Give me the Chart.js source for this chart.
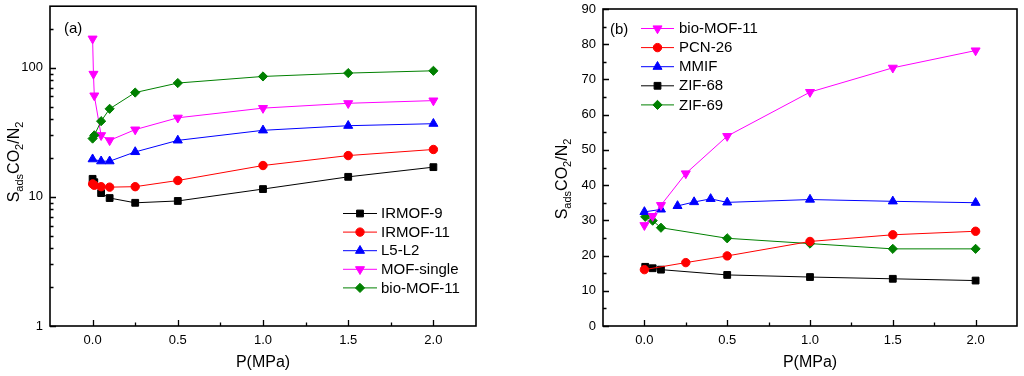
<!DOCTYPE html>
<html><head><meta charset="utf-8">
<script src="https://cdn.jsdelivr.net/npm/chart.js@4.4.0/dist/chart.umd.min.js"></script>
<style>
html,body{margin:0;padding:0;background:#fff;width:1024px;height:376px;overflow:hidden}
.box{position:absolute;top:0;width:512px;height:376px}
#ba{left:0}#bb{left:512px}
</style></head><body>
<div class="box" id="ba"><canvas id="ca" width="512" height="376"></canvas></div>
<div class="box" id="bb"><canvas id="cb" width="512" height="376"></canvas></div>
<script>
// ---------- DATA: panel (a) ----------
const namesA = ['IRMOF-9','IRMOF-11','L5-L2','MOF-single','bio-MOF-11'];
const xA_IRMOF9  = [0, 0.01, 0.05, 0.1, 0.25, 0.5, 1, 1.5, 2];
const yA_IRMOF9  = [13.8, 13.0, 10.7, 9.8, 9.0, 9.3, 11.5, 14.3, 17.0];
const xA_IRMOF11 = [0, 0.01, 0.05, 0.1, 0.25, 0.5, 1, 1.5, 2];
const yA_IRMOF11 = [12.6, 12.3, 12.0, 11.9, 12.0, 13.4, 17.5, 20.9, 23.3];
const xA_L5L2    = [0, 0.05, 0.1, 0.25, 0.5, 1, 1.5, 2];
const yA_L5L2    = [19.6, 18.9, 18.9, 22.3, 27.4, 32.8, 35.6, 36.9];
const xA_MOFs    = [0, 0.005, 0.01, 0.05, 0.1, 0.25, 0.5, 1, 1.5, 2];
const yA_MOFs    = [168, 89.6, 60.9, 30.0, 27.4, 33.2, 41.0, 48.7, 53.1, 55.7];
const xA_bio     = [0, 0.01, 0.05, 0.1, 0.25, 0.5, 1, 1.5, 2];
const yA_bio     = [28.3, 30.0, 38.6, 48.1, 64.3, 76.2, 85.7, 91.0, 94.8];

// ---------- DATA: panel (b) ----------
const namesB = ['bio-MOF-11','PCN-26','MMIF','ZIF-68','ZIF-69'];
const xB_bio   = [0, 0.05, 0.1, 0.25, 0.5, 1, 1.5, 2];
const yB_bio   = [28.6, 31.2, 34.3, 43.3, 53.9, 66.4, 73.3, 78.2];
const xB_PCN   = [0, 0.25, 0.5, 1, 1.5, 2];
const yB_PCN   = [16.0, 18.0, 19.9, 24.0, 25.9, 26.9];
const xB_MMIF  = [0, 0.1, 0.15, 0.2, 0.3, 0.4, 0.5, 1, 1.5, 2];
const yB_MMIF  = [32.4, 33.1, null, 34.1, 35.2, 36.1, 35.1, 35.9, 35.4, 35.0];
const xB_ZIF68 = [0.005, 0.05, 0.1, 0.5, 1, 1.5, 2];
const yB_ZIF68 = [16.8, 16.4, 16.0, 14.5, 13.9, 13.4, 12.9];
const xB_ZIF69 = [0.005, 0.05, 0.1, 0.5, 1, 1.5, 2];
const yB_ZIF69 = [31.0, 29.9, 27.9, 24.9, 23.4, 21.9, 21.9];

// ---------- TICKS ----------
const xTicks      = [0, 0.5, 1.0, 1.5, 2.0];
const xMinorTicks = [0.25, 0.75, 1.25, 1.75];
const yTicksA      = [1, 10, 100];
const yMinorTicksA = [2,3,4,5,6,7,8,9,20,30,40,50,60,70,80,90,200];
const yTicksB      = [0,10,20,30,40,50,60,70,80,90];
const yMinorTicksB = [5,15,25,35,45,55,65,75,85];

const FONT = "'Liberation Sans', Arial, sans-serif";
Chart.defaults.font.family = FONT;
Chart.defaults.color = '#000';

const ST = {
  black:  {color:'#000000', style:'rect', rot:0, r:4.8},
  red:    {color:'#ff0000', style:'circle', rot:0, r:4.2},
  blue:   {color:'#0000ff', style:'triangle', rot:0, r:5.2},
  mag:    {color:'#ff00ff', style:'triangle', rot:180, r:5.2},
  green:  {color:'#008000', style:'rectRot', rot:0, r:4.6}
};

function ds(label, xs, ys, s){
  return {
    label, data: xs.map((v,i)=>({x:v, y:ys[i]})),
    borderColor: s.color, backgroundColor: s.color, borderWidth: 1,
    pointStyle: s.style, rotation: s.rot, pointRadius: s.r, pointHoverRadius: s.r,
    pointBackgroundColor: s.color, pointBorderColor: s.color, pointBorderWidth: 1,
    tension: 0, spanGaps: false, fill: false
  };
}

function decoPlugin(cfg){
  return {
    id: 'deco',
    afterDatasetsDraw(chart){
      const {ctx, chartArea:a, scales:{x, y}} = chart;
      ctx.save();
      // frame
      ctx.strokeStyle = '#000'; ctx.lineWidth = 1.6;
      ctx.strokeRect(a.left, a.top, a.right - a.left, a.bottom - a.top);
      // inward ticks
      ctx.lineWidth = 1.3;
      ctx.beginPath();
      xTicks.forEach(v=>{const p=Math.round(x.getPixelForValue(v))+0.5; ctx.moveTo(p,a.bottom); ctx.lineTo(p,a.bottom-6);});
      xMinorTicks.forEach(v=>{const p=Math.round(x.getPixelForValue(v))+0.5; ctx.moveTo(p,a.bottom); ctx.lineTo(p,a.bottom-3.5);});
      cfg.yMajor.forEach(v=>{const p=Math.round(y.getPixelForValue(v))+0.5; ctx.moveTo(a.left,p); ctx.lineTo(a.left+6,p);});
      cfg.yMinor.forEach(v=>{const p=Math.round(y.getPixelForValue(v))+0.5; ctx.moveTo(a.left,p); ctx.lineTo(a.left+3.5,p);});
      ctx.stroke();
      // legend
      cfg.legend.items.forEach((it, i)=>{
        const ly = cfg.legend.y0 + i*cfg.legend.dy;
        ctx.strokeStyle = it.s.color; ctx.lineWidth = 1;
        ctx.beginPath(); ctx.moveTo(cfg.legend.l0, ly); ctx.lineTo(cfg.legend.l1, ly); ctx.stroke();
        ctx.fillStyle = it.s.color; ctx.strokeStyle = it.s.color;
        Chart.helpers.drawPoint(ctx, {pointStyle: it.s.style, rotation: it.s.rot, radius: it.s.r, borderWidth: 1}, cfg.legend.mx, ly);
        ctx.fillStyle = '#000'; ctx.font = '15px ' + FONT;
        ctx.textAlign = 'left'; ctx.textBaseline = 'middle';
        ctx.fillText(it.label, cfg.legend.tx, ly + 0.5);
      });
      // panel label
      ctx.fillStyle = '#000'; ctx.font = '15px ' + FONT;
      ctx.textAlign = 'left'; ctx.textBaseline = 'middle';
      ctx.fillText(cfg.panel.text, cfg.panel.x, cfg.panel.y);
      // x title
      ctx.font = '16px ' + FONT; ctx.textAlign = 'center';
      ctx.fillText('P(MPa)', (a.left + a.right)/2, 363);
      // y title with subscripts
      const parts = [['S',0],['ads',1],['CO',0],['2',1],['/N',0],['2',1]];
      const mainF = '16px ' + FONT, subF = '11px ' + FONT;
      let total = 0;
      parts.forEach(p=>{ctx.font = p[1]?subF:mainF; total += ctx.measureText(p[0]).width;});
      ctx.translate(cfg.ytitle.x, cfg.ytitle.cy);
      ctx.rotate(-Math.PI/2);
      ctx.textAlign = 'left'; ctx.textBaseline = 'alphabetic';
      let cx = -total/2;
      parts.forEach(p=>{
        ctx.font = p[1]?subF:mainF;
        ctx.fillText(p[0], cx, p[1]?4:0);
        cx += ctx.measureText(p[0]).width;
      });
      ctx.restore();
    }
  };
}

function xScale(){
  return {
    type:'linear', min:-0.25, max:2.25,
    afterBuildTicks: s=>{ s.ticks = xTicks.map(v=>({value:v})); },
    afterFit: s=>{ s.height = 50; s.paddingLeft = 0; s.paddingRight = 0; s.paddingTop = 0; s.paddingBottom = 0; },
    ticks:{ callback: v=>Number(v).toFixed(1), font:{size:13}, padding:7, maxRotation:0, autoSkip:false },
    grid:{ display:false, drawTicks:false }, border:{ display:false }
  };
}

// ---------- Chart (a) ----------
new Chart(document.getElementById('ca'), {
  type:'line',
  data:{ datasets:[
    ds(namesA[4], xA_bio, yA_bio, ST.green),
    ds(namesA[3], xA_MOFs, yA_MOFs, ST.mag),
    ds(namesA[2], xA_L5L2, yA_L5L2, ST.blue),
    ds(namesA[1], xA_IRMOF11, yA_IRMOF11, ST.red),
    ds(namesA[0], xA_IRMOF9, yA_IRMOF9, ST.black)
  ]},
  options:{
    responsive:false, animation:false, events:[],
    layout:{ padding:{ left:0, right:36, top:5, bottom:0 } },
    plugins:{ legend:{display:false}, tooltip:{enabled:false} },
    scales:{
      x: xScale(),
      y: {
        type:'logarithmic', min:1, max:300,
        afterBuildTicks: s=>{ s.ticks = yTicksA.map(v=>({value:v})); },
        afterFit: s=>{ s.width = 50; s.paddingTop = 0; s.paddingBottom = 0; s.paddingLeft = 0; s.paddingRight = 0; },
        ticks:{ callback: v=>String(v), font:{size:13}, padding:7, autoSkip:false },
        grid:{ display:false, drawTicks:false }, border:{ display:false }
      }
    }
  },
  plugins:[ decoPlugin({
    yMajor: yTicksA, yMinor: yMinorTicksA,
    legend:{ l0:343, l1:377, mx:360, tx:381, y0:213.5, dy:18.6,
      items:[{label:namesA[0], s:ST.black},{label:namesA[1], s:ST.red},{label:namesA[2], s:ST.blue},{label:namesA[3], s:ST.mag},{label:namesA[4], s:ST.green}] },
    panel:{ text:'(a)', x:64, y:29 },
    ytitle:{ x:18.5, cy:162 }
  }) ]
});

// ---------- Chart (b) ----------
new Chart(document.getElementById('cb'), {
  type:'line',
  data:{ datasets:[
    ds(namesB[0], xB_bio, yB_bio, ST.mag),
    ds(namesB[1], xB_PCN, yB_PCN, ST.red),
    ds(namesB[2], xB_MMIF, yB_MMIF, ST.blue),
    ds(namesB[4], xB_ZIF69, yB_ZIF69, ST.green),
    ds(namesB[3], xB_ZIF68, yB_ZIF68, ST.black)
  ]},
  options:{
    responsive:false, animation:false, events:[],
    layout:{ padding:{ left:0, right:7, top:9, bottom:0 } },
    plugins:{ legend:{display:false}, tooltip:{enabled:false} },
    scales:{
      x: xScale(),
      y: {
        type:'linear', min:0, max:90,
        afterBuildTicks: s=>{ s.ticks = yTicksB.map(v=>({value:v})); },
        afterFit: s=>{ s.width = 91; s.paddingTop = 0; s.paddingBottom = 0; s.paddingLeft = 0; s.paddingRight = 0; },
        ticks:{ callback: v=>String(v), font:{size:13}, padding:7, autoSkip:false },
        grid:{ display:false, drawTicks:false }, border:{ display:false }
      }
    }
  },
  plugins:[ decoPlugin({
    yMajor: yTicksB, yMinor: yMinorTicksB,
    legend:{ l0:129, l1:162, mx:145.5, tx:167, y0:28.5, dy:19.1,
      items:[{label:namesB[0], s:ST.mag},{label:namesB[1], s:ST.red},{label:namesB[2], s:ST.blue},{label:namesB[3], s:ST.black},{label:namesB[4], s:ST.green}] },
    panel:{ text:'(b)', x:98, y:29.5 },
    ytitle:{ x:54.5, cy:179 }
  }) ]
});
</script>
</body></html>
